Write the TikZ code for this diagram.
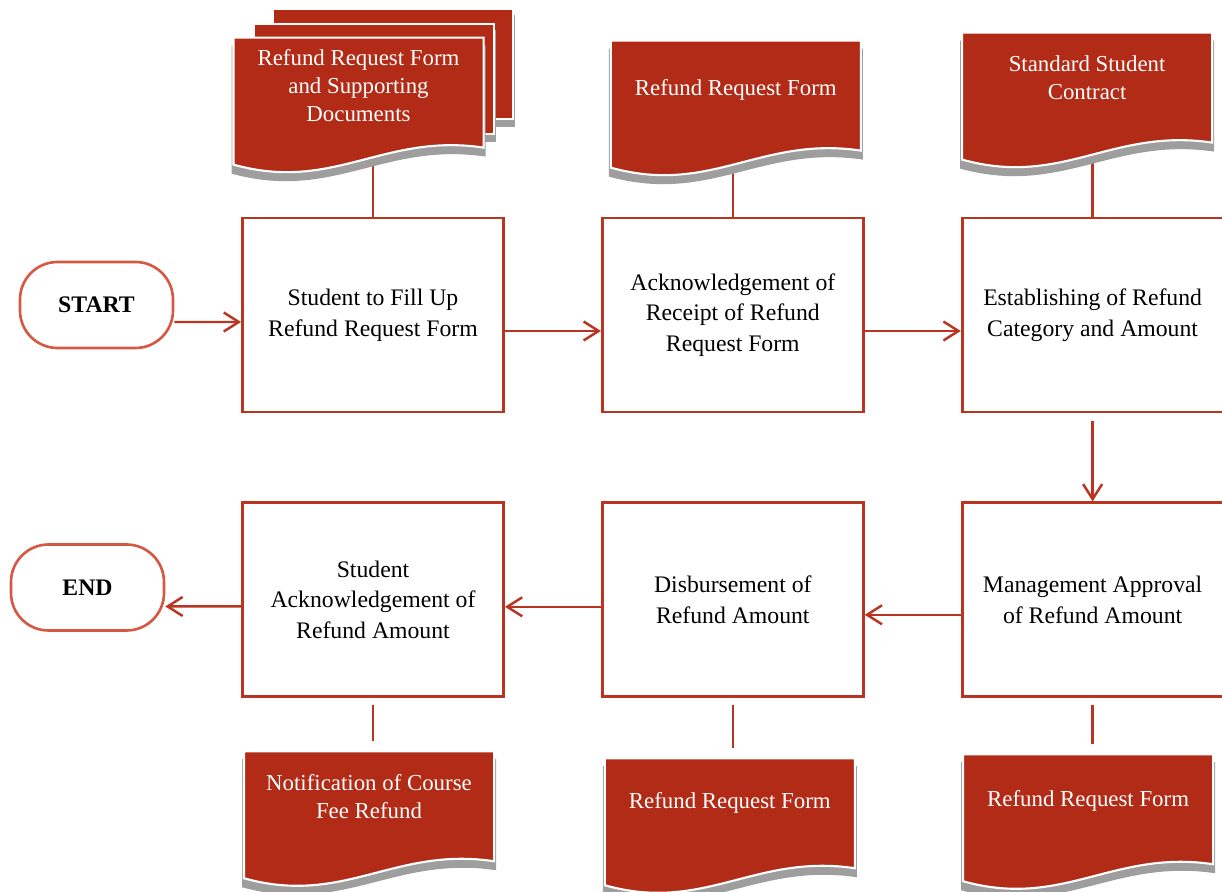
\documentclass[tikz,border=0pt]{standalone}
\usepackage{fontspec}
\setmainfont{Liberation Serif}
\usetikzlibrary{positioning}
\usetikzlibrary{arrows.meta}
\definecolor{rosso}{RGB}{178,43,23}
\definecolor{bordo}{RGB}{185,52,33}
\definecolor{bordoT}{RGB}{214,88,66}
\definecolor{ombra}{RGB}{158,158,158}
\pgfdeclarelayer{sfondo}
\pgfsetlayers{sfondo,main}
% foglio con bordo ondulato, disegnato sul nodo #1
\newcommand{\foglio}[1]{%
\begin{scope}[shift={(#1.north west)},x=0.02cm,y=-0.02cm]
\fill[ombra] (1,11) -- (255,11) -- (255,122) .. controls (153,107) and (103,167) .. (1,139) -- cycle;
\fill[rosso,draw=white,line width=1.2pt] (3,3) -- (253,3) -- (253,113) .. controls (153,98) and (103,158) .. (3,130) -- cycle;
\end{scope}}
% foglio retrostante, spostato di (#2,#3) px
\newcommand{\retro}[3]{%
\begin{scope}[shift={(#1.north west)},x=0.02cm,y=-0.02cm]
\fill[ombra] (5+#2,9+#3) rectangle (245+#2,121+#3);
\fill[rosso,draw=white,line width=1.2pt] (3+#2,3+#3) rectangle (243+#2,113+#3);
\end{scope}}

\begin{document}
\begin{tikzpicture}[align=center,
processo/.style={draw=bordo,line width=1.6pt,minimum width=5.22cm,minimum height=3.88cm,font=\fontsize{13.5}{17.5}\selectfont},
terminale/.style={draw=bordoT,line width=1.5pt,rounded corners=0.75cm,minimum width=3.06cm,minimum height=1.72cm,font=\fontsize{13.5}{17}\selectfont\bfseries},
foglio/.style={minimum width=5.12cm,minimum height=3cm,inner sep=0pt,outer sep=0pt},
testoF/.style={text=white,font=\fontsize{13}{16}\selectfont,yshift=-0.96cm},
freccia/.style={draw=bordo,line width=1.4pt,-{Straight Barb[length=0.3cm,width=0.38cm]}},
linea/.style={draw=bordo,line width=1.4pt}
]
\useasboundingbox (0,0) rectangle (24.44,17.84);
\node[terminale] (inizio) at (1.93,11.74) {START};
%--
\node[processo] (p1) at (7.46,11.54) {Student to Fill Up\\Refund Request Form};
\draw[freccia] ([yshift=-0.34cm]inizio.east) -- ([yshift=-0.14cm]p1.west);
\node[processo,right=1.92cm of p1] (p2) {Acknowledgement of\\Receipt of Refund\\Request Form};
\draw[freccia] ([yshift=-0.32cm]p1.east) -- ([yshift=-0.32cm]p2.west);
\node[processo,right=1.92cm of p2] (p3) {Establishing of Refund\\Category and Amount};
\draw[freccia] ([yshift=-0.32cm]p2.east) -- ([yshift=-0.32cm]p3.west);
%--
\node[processo,below=1.76cm of p3] (p6) {Management Approval\\of Refund Amount};
\draw[freccia,shorten <=0.16cm] (p3) -- (p6);
\node[processo,left=1.92cm of p6] (p5) {Disbursement of\\Refund Amount};
\draw[freccia] ([yshift=-0.3cm]p6.west) -- ([yshift=-0.3cm]p5.east);
\node[processo,left=1.92cm of p5] (p4) {Student\\Acknowledgement of\\Refund Amount};
\draw[freccia] ([yshift=-0.14cm]p5.west) -- ([yshift=-0.14cm]p4.east);
\node[terminale] (fine) at (1.75,6.09) {END};
\draw[freccia] ([yshift=-0.13cm]p4.west) -- ([yshift=-0.38cm]fine.east);
%--
\node[foglio,above=0.64cm of p1,xshift=-0.29cm] (f1) {};
\node[testoF,yshift=-0.06cm] at (f1.north) {Refund Request Form\\and Supporting\\Documents};
\node[foglio,above=0.58cm of p2,xshift=0.06cm] (f2) {};
\node[testoF,yshift=-0.08cm] at (f2.north) {Refund Request Form};
\node[foglio,above=0.74cm of p3,xshift=-0.11cm] (f3) {};
\node[testoF] at (f3.north) {Standard Student\\Contract};
%--
\node[foglio,below=1.0cm of p4,xshift=-0.08cm] (f4) {};
\node[testoF] at (f4.north) {Notification of Course\\Fee Refund};
\node[foglio,below=1.14cm of p5,xshift=-0.06cm] (f5) {};
\node[testoF] at (f5.north) {Refund Request Form};
\node[foglio,below=1.06cm of p6,xshift=-0.09cm] (f6) {};
\node[testoF,yshift=-0.04cm] at (f6.north) {Refund Request Form};
%--
\begin{pgfonlayer}{sfondo}
\draw[linea] (p1.north) -- (p1.north |- f1.center);
\draw[linea] (p2.north) -- (p2.north |- f2.center);
\draw[linea] (p3.north) -- (p3.north |- f3.center);
\draw[linea,shorten <=0.14cm,shorten >=0.14cm] (p4.south) -- (p4.south |- f4.north);
\draw[linea,shorten <=0.14cm,shorten >=0.14cm] (p5.south) -- (p5.south |- f5.north);
\draw[linea,shorten <=0.14cm,shorten >=0.14cm] (p6.south) -- (p6.south |- f6.north);
\retro{f1}{39}{-29}
\retro{f1}{20}{-14}
\foglio{f1} \foglio{f2} \foglio{f3}
\foglio{f4} \foglio{f5} \foglio{f6}
\end{pgfonlayer}
\end{tikzpicture}
\end{document}
